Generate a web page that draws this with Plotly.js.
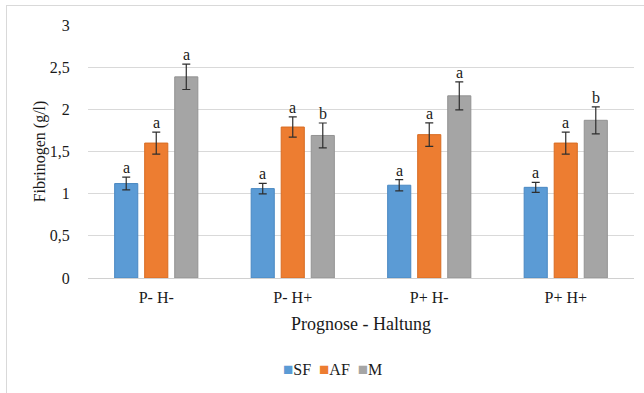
<!DOCTYPE html>
<html>
<head>
<meta charset="utf-8">
<script src="https://cdn.plot.ly/plotly-3.0.1.min.js"></script>
<style>
html,body{margin:0;padding:0;background:#fff;}
#frame{position:absolute;left:6px;top:5px;width:700px;height:400px;border-left:1px solid #d9d9d9;border-top:1px solid #d9d9d9;pointer-events:none;}
#chart{width:644px;height:393px;}
</style>
</head>
<body>
<div id="chart"></div>
<div id="frame"></div>
<script>
const categories = ["P- H-", "P- H+", "P+ H-", "P+ H+"];
const seriesNames = ["SF", "AF", "M"];
const sfValues = [1.12, 1.06, 1.10, 1.075];
const afValues = [1.60, 1.79, 1.70, 1.60];
const mValues  = [2.385, 1.69, 2.16, 1.87];
const sfErrors = [0.075, 0.063, 0.067, 0.06];
const afErrors = [0.13, 0.12, 0.14, 0.13];
const mErrors  = [0.15, 0.148, 0.166, 0.16];
const sfLetters = ["a", "a", "a", "a"];
const afLetters = ["a", "a", "a", "a"];
const mLetters  = ["a", "b", "a", "b"];
const yTickVals = [0, 0.5, 1, 1.5, 2, 2.5, 3];

const colors = ["#5B9BD5", "#ED7D31", "#A5A5A5"];
const lineColors = ["#4a88c2", "#d86c22", "#939393"];
const values = [sfValues, afValues, mValues];
const errors = [sfErrors, afErrors, mErrors];
const letters = [sfLetters, afLetters, mLetters];

const bargap = 0.34;
const font = "Liberation Serif, Times New Roman, serif";
const textColor = "#1a1a1a";

const traces = seriesNames.map((name, j) => ({
  type: "bar",
  name: name,
  x: categories,
  y: values[j],
  showlegend: false,
  marker: {color: colors[j], line: {color: lineColors[j], width: 1}},
  error_y: {type: "data", array: errors[j], visible: true, color: "#2e2e2e", thickness: 1.2, width: 4}
}));

const slot = (1 - bargap) / seriesNames.length;
const annotations = [];
seriesNames.forEach((name, j) => {
  categories.forEach((c, i) => {
    annotations.push({
      x: i + (j - 1) * slot,
      y: values[j][i] + errors[j][i],
      xref: "x", yref: "y",
      text: letters[j][i],
      showarrow: false,
      yanchor: "bottom",
      yshift: -1,
      font: {family: font, size: 16, color: textColor}
    });
  });
});

// compact legend as text, built from the series names and colours
const legendText = seriesNames.map((n, j) =>
  `<span style="color:${colors[j]};font-size:17px">■</span>${n}`).join("&nbsp;&nbsp;");
annotations.push({
  xref: "paper", yref: "paper",
  x: 0.447, y: -0.362,
  xanchor: "center", yanchor: "middle",
  showarrow: false,
  text: legendText,
  font: {family: font, size: 16, color: textColor}
});

const layout = {
  width: 644, height: 393,
  margin: {l: 88, r: 10, t: 25, b: 115},
  paper_bgcolor: "#fff", plot_bgcolor: "#fff",
  separators: ", ",
  bargap: bargap,
  bargroupgap: 0.23,
  barmode: "group",
  showlegend: false,
  font: {family: font, size: 16, color: textColor},
  xaxis: {
    type: "category",
    showgrid: false,
    showline: true, linecolor: "#d0d0d0", linewidth: 1,
    ticks: "outside", ticklen: 5, tickcolor: "rgba(0,0,0,0)",
    tickfont: {family: font, size: 16, color: textColor},
    title: {text: "Prognose - Haltung", font: {family: font, size: 18, color: textColor}, standoff: 12},
    fixedrange: true
  },
  yaxis: {
    range: [0, 3],
    tickvals: yTickVals,
    showgrid: true, gridcolor: "#d9d9d9", gridwidth: 1,
    zeroline: false,
    showline: false,
    ticks: "outside", ticklen: 14, tickcolor: "rgba(0,0,0,0)",
    tickfont: {family: font, size: 16, color: textColor},
    title: {text: "Fibrinogen (g/l)", font: {family: font, size: 16, color: textColor}, standoff: 0},
    fixedrange: true
  },
  annotations: annotations
};

Plotly.newPlot("chart", traces, layout, {displayModeBar: false, staticPlot: true});
</script>
</body>
</html>
